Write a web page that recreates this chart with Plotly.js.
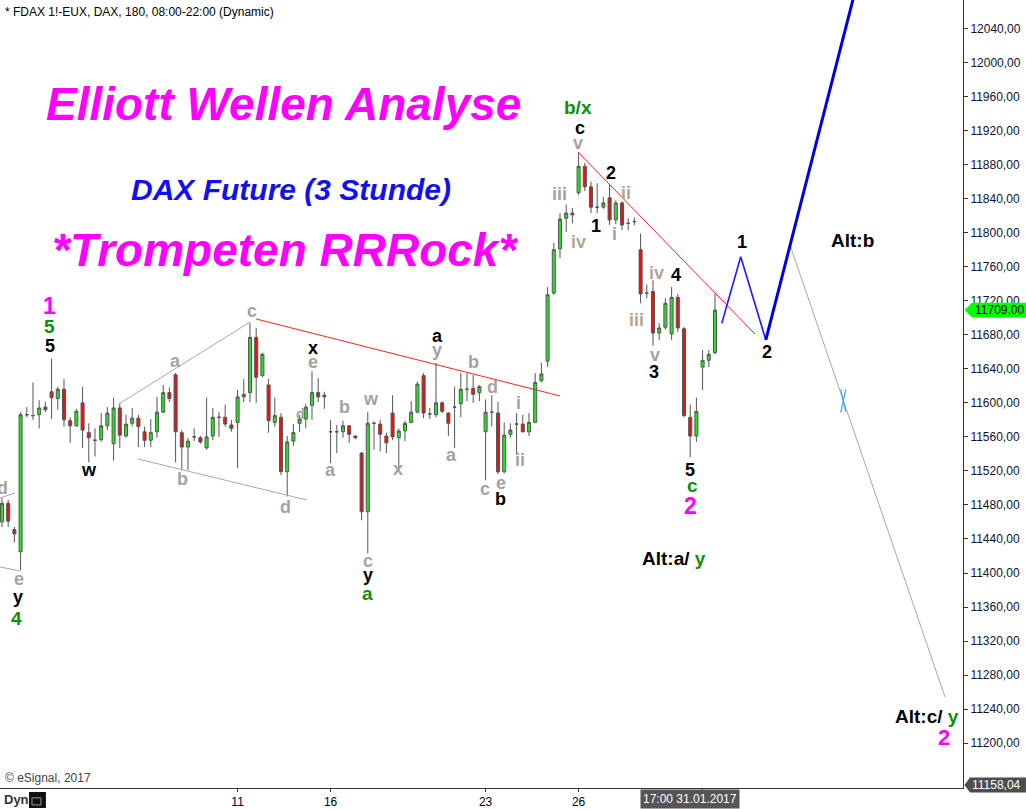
<!DOCTYPE html>
<html><head><meta charset="utf-8">
<script src="https://cdn.plot.ly/plotly-3.0.1.min.js"></script>
<style>html,body{margin:0;padding:0;background:#fff;}#chart{width:1026px;height:809px;}</style>
</head><body><div id="chart"></div>
<script>
// ---- candles (3-hour bars, FDAX) ----
const barOpen = [11460,11482,11451,11425,11586,11585,11586,11595,11613,11605,
 11616,11579,11573,11600,11565,11556,11557,11573,11552,11594,
 11561,11576,11582,11566,11556,11566,11589,11612,11633,11565,
 11548,11560,11559,11547,11561,11583,11583,11574,11577,11607,
 11612,11677,11632,11621,11577,11583,11519,11555,11576,11581,
 11597,11612,11607,11566,11566,11566,11573,11561,11541,11472,
 11576,11575,11561,11588,11559,11567,11577,11589,11632,11587,
 11586,11600,11588,11595,11599,11616,11617,11612,11566,11589,
 11588,11519,11563,11575,11575,11566,11577,11626,11649,11729,
 11781,11817,11823,11847,11878,11854,11830,11830,11841,11815,
 11835,11811,11813,11780,11729,11731,11682,11689,11681,11724,
 11687,11583,11561,11642,11650,11659];
const barHigh = [11488,11486,11454,11589,11595,11624,11603,11601,11652,11619,
 11628,11583,11593,11619,11576,11570,11588,11595,11606,11600,
 11586,11594,11586,11572,11581,11607,11621,11618,11635,11568,
 11559,11570,11561,11606,11594,11589,11598,11580,11615,11628,
 11694,11688,11659,11628,11606,11588,11561,11575,11586,11599,
 11637,11629,11613,11580,11574,11579,11574,11562,11542,11589,
 11578,11580,11565,11609,11570,11579,11602,11625,11635,11594,
 11647,11602,11589,11619,11635,11635,11633,11621,11604,11609,
 11601,11577,11576,11588,11586,11588,11635,11647,11736,11788,
 11823,11833,11829,11895,11882,11860,11858,11842,11856,11838,
 11837,11817,11818,11799,11739,11744,11694,11723,11736,11728,
 11689,11598,11606,11662,11662,11728];
const barLow = [11454,11454,11436,11403,11583,11580,11570,11589,11581,11592,
 11572,11553,11572,11547,11530,11537,11554,11568,11532,11547,
 11559,11572,11548,11548,11548,11559,11588,11601,11530,11521,
 11521,11555,11552,11545,11556,11560,11572,11566,11523,11601,
 11601,11600,11630,11565,11572,11515,11490,11549,11566,11570,
 11580,11601,11593,11529,11541,11559,11553,11557,11462,11423,
 11545,11543,11541,11556,11520,11555,11576,11588,11582,11581,
 11583,11588,11561,11547,11583,11602,11600,11602,11509,11572,
 11516,11517,11559,11539,11565,11561,11576,11624,11642,11727,
 11770,11801,11811,11844,11849,11823,11823,11828,11809,11810,
 11803,11803,11809,11717,11723,11667,11674,11686,11674,11683,
 11583,11536,11554,11615,11642,11657];
const barClose = [11482,11461,11446,11586,11586,11585,11594,11592,11606,11616,
 11580,11573,11590,11568,11559,11556,11573,11588,11594,11562,
 11575,11582,11572,11556,11565,11589,11612,11605,11566,11548,
 11555,11560,11554,11560,11583,11583,11575,11570,11607,11610,
 11677,11630,11657,11579,11585,11519,11554,11565,11581,11595,
 11612,11607,11609,11566,11566,11573,11563,11559,11472,11576,
 11576,11563,11553,11560,11567,11576,11589,11622,11588,11587,
 11600,11590,11576,11595,11616,11616,11610,11619,11589,11589,
 11519,11562,11568,11575,11566,11577,11624,11634,11727,11780,
 11816,11823,11821,11878,11854,11830,11830,11835,11815,11835,
 11809,11811,11813,11728,11729,11682,11688,11717,11724,11688,
 11585,11561,11590,11650,11657,11709];
const barIndex = barOpen.map((_, k) => k);

// ---- axis ticks ----
const xTickVals = [38, 53, 78, 93];
const xTickText = ['11', '16', '23', '26'];
const yTickVals = [11200,11240,11280,11320,11360,11400,11440,11480,11520,11560,11600,
 11640,11680,11720,11760,11800,11840,11880,11920,11960,12000,12040];
const yTickText = ['11200,00','11240,00','11280,00','11320,00','11360,00','11400,00','11440,00',
 '11480,00','11520,00','11560,00','11600,00','11640,00','11680,00','11720,00','11760,00',
 '11800,00','11840,00','11880,00','11920,00','11960,00','12000,00','12040,00'];
const lastPrice = 11709;
const lastPriceText = '11709,00';
const lowPriceText = '11158,04';
const cursorText = '17:00 31.01.2017';
const cursorIndex = 110.97;
const cursorTick = 112.9;

// ---- drawn lines (bar index, price) ----
const redLine1X = [40.97, 90.0],   redLine1Y = [11698.6, 11608.1];
const redLine2X = [92.9, 121.45],  redLine2Y = [11894.8, 11680.9];
const greyUpperX = [18.87, 40.0],  greyUpperY = [11598.7, 11695.0];
const greyLowerX = [21.94, 49.19], greyLowerY = [11534.0, 11485.8];
const greyLeftEX = [-0.32, 2.9],   greyLeftEY = [11407.1, 11402.4];
const greyLeftDX = [-0.32, 2.1],   greyLeftDY = [11488.2, 11494.1];
const blueThinX = [116.1, 119.15, 123.2], blueThinY = [11693.5, 11771.8, 11673.9];
const blueThickX = [123.2, 138.06], blueThickY = [11673.9, 12097.0];
const greyProjX = [127.1, 152.1],  greyProjY = [11785.5, 11254.3];
const blueMarkAX = [136.1, 135.27], blueMarkAY = [11615.9, 11588.4];
const blueMarkBX = [135.27, 136.1], blueMarkBY = [11615.9, 11589.2];

// ---- wave labels ----
const GREY = '#a3a3a3', TAN = '#b5a78f', BLK = '#000000', GRN = '#0b8f0b', MAG = '#ff00ff';
const waveText = ['1','5','5','d','e','y','4','w','a','b','c','d','x','e','d','b','a','w','x','c','y','a',
 'a','y','b','a','d','c','e','b','i','ii','iii','iv','v','c','b/x','2','1','ii','i','iv','4','iii','v','3',
 '5','c','2','1','2','Alt:b','Alt:a/ <span style="color:#0b8f0b">y</span>','Alt:c/ <span style="color:#0b8f0b">y</span>','2'];
const waveX = [7.74,7.74,7.74,0.16,2.74,2.58,2.42,14.03,28.06,29.19,40.32,45.65,50.16,50.16,48.2,55.32,53.06,59.52,63.87,59.03,59.03,59.03,
 70.32,70.16,75.97,72.42,79.19,77.9,80.48,80.48,83.23,83.55,89.84,93.06,92.9,93.23,92.9,98.23,95.81,100.6,98.71,105.6,108.7,102.3,105.3,105.2,
 111.0,111.3,111.0,119.35,123.4,137.2,108.4,149.2,151.9];
const waveY = [11713.8,11689.2,11666.8,11499.9,11393.0,11371.8,11346.0,11521.1,11649.2,11510.5,11708.0,11477.6,11664.5,11648.0,11586.9,11595.1,11521.1,11604.5,11522.3,11414.1,11397.7,11376.5,
 11678.6,11662.1,11648.0,11538.7,11618.6,11498.7,11505.8,11487.0,11599.8,11532.8,11845.5,11789.1,11905.4,11923.1,11946.6,11870.2,11807.9,11846.7,11798.5,11752.6,11750.3,11697.4,11656.2,11636.3,
 11521.1,11502.3,11478.8,11789.1,11659.8,11791.4,11417.6,11231.9,11206.1];
const waveColor = [MAG,GRN,BLK,GREY,GREY,BLK,GRN,BLK,GREY,GREY,GREY,GREY,BLK,GREY,GREY,GREY,GREY,GREY,GREY,GREY,BLK,GRN,
 BLK,GREY,GREY,GREY,GREY,GREY,GREY,BLK,GREY,GREY,GREY,TAN,GREY,BLK,GRN,BLK,BLK,TAN,GREY,TAN,BLK,TAN,GREY,BLK,
 BLK,GRN,MAG,BLK,BLK,BLK,BLK,BLK,MAG];
const waveSize = [23,19,18,18,18,18,19,18,18,18,18,18,18,18,14,18,18,18,18,18,18,19,
 18,18,18,18,18,18,18,18,18,18,18,18,18,18,19,18,18,18,18,18,18,18,18,18,
 18,19,23,18,18,19,19,19,22];

const FONT = 'Liberation Sans, Arial, sans-serif';

const traces = [{
  type: 'candlestick', x: barIndex, open: barOpen, high: barHigh, low: barLow, close: barClose,
  increasing: {line: {color: '#555555', width: 1}, fillcolor: '#1ee61e'},
  decreasing: {line: {color: '#555555', width: 1}, fillcolor: '#f01010'},
  whiskerwidth: 0, hoverinfo: 'skip', showlegend: false
}];
function addLine(x, y, color, width) {
  traces.push({type: 'scatter', mode: 'lines', x: x, y: y, line: {color: color, width: width}, hoverinfo: 'skip', showlegend: false});
}
addLine(greyUpperX, greyUpperY, '#a8a8a8', 1);
addLine(greyLowerX, greyLowerY, '#a8a8a8', 1);
addLine(greyLeftEX, greyLeftEY, '#a8a8a8', 1);
addLine(greyLeftDX, greyLeftDY, '#a8a8a8', 1);
addLine(redLine1X, redLine1Y, '#ff2020', 1);
addLine(redLine2X, redLine2Y, '#ff2020', 1);
addLine(greyProjX, greyProjY, '#a8a8a8', 1);
addLine(blueThinX, blueThinY, '#1a1aff', 1.6);
addLine(blueThickX, blueThickY, '#0000e6', 3);
addLine(blueMarkAX, blueMarkAY, '#3fa3ff', 1.2);
addLine(blueMarkBX, blueMarkBY, '#3fa3ff', 1.2);

const annotations = [];
for (let k = 0; k < waveText.length; k++) {
  annotations.push({xref: 'x', yref: 'y', x: waveX[k], y: waveY[k], text: '<b>' + waveText[k] + '</b>',
    showarrow: false, xanchor: 'center', yanchor: 'middle',
    font: {family: FONT, size: waveSize[k], color: waveColor[k]}});
}
annotations.push(
  {xref: 'paper', yref: 'paper', x: 0.003, y: 0.985, xanchor: 'left', yanchor: 'middle', showarrow: false,
   text: '* FDAX 1!-EUX, DAX, 180, 08:00-22:00 (Dynamic)', font: {family: FONT, size: 12, color: '#000'}},
  {xref: 'paper', yref: 'paper', x: 0.2939, y: 0.868, xanchor: 'center', yanchor: 'middle', showarrow: false,
   text: '<b><i>Elliott Wellen Analyse</i></b>', font: {family: FONT, size: 46, color: '#ff00ff'}},
  {xref: 'paper', yref: 'paper', x: 0.3022, y: 0.7589, xanchor: 'center', yanchor: 'middle', showarrow: false,
   text: '<b><i>DAX Future (3 Stunde)</i></b>', font: {family: FONT, size: 30, color: '#1010f0'}},
  {xref: 'paper', yref: 'paper', x: 0.296, y: 0.6827, xanchor: 'center', yanchor: 'middle', showarrow: false,
   text: '<b><i>*Trompeten RRRock*</i></b>', font: {family: FONT, size: 46, color: '#ff00ff'}},
  {xref: 'paper', yref: 'paper', x: 0.003, y: 0.0127, xanchor: 'left', yanchor: 'middle', showarrow: false,
   text: '© eSignal, 2017', font: {family: FONT, size: 12, color: '#444'}},
  {xref: 'paper', yref: 'paper', x: 0.002, y: -0.0152, xanchor: 'left', yanchor: 'middle', showarrow: false,
   text: '<b>Dyn</b>', font: {family: FONT, size: 13, color: '#333'}},
  {xref: 'paper', yref: 'y', x: 1, xshift: 10, y: lastPrice, xanchor: 'left', yanchor: 'middle', showarrow: false,
   text: lastPriceText, font: {family: FONT, size: 12, color: '#000'}},
  {xref: 'paper', yref: 'paper', x: 1, xshift: 7, y: 0.0038, xanchor: 'left', yanchor: 'middle', showarrow: false,
   text: lowPriceText, font: {family: FONT, size: 12, color: '#fff'}},
  {xref: 'x', yref: 'paper', x: cursorIndex, y: -0.0138, xanchor: 'center', yanchor: 'middle', showarrow: false,
   text: cursorText, bgcolor: '#555555', borderpad: 2, font: {family: FONT, size: 12, color: '#fff'}}
);

const lpHalf = 8.8;
const shapes = [
  {type: 'path', xref: 'paper', yref: 'y', fillcolor: '#00ff00', line: {width: 0},
   path: 'M 1.0015,' + lastPrice + ' L 1.0093,' + (lastPrice + lpHalf) + ' L 1.0654,' + (lastPrice + lpHalf) +
         ' L 1.0654,' + (lastPrice - lpHalf) + ' L 1.0093,' + (lastPrice - lpHalf) + ' Z'},
  {type: 'path', xref: 'paper', yref: 'paper', fillcolor: '#4d4d4d', line: {width: 0},
   path: 'M 1.0015,0.0038 L 1.0072,0.0133 L 1.0654,0.0133 L 1.0654,-0.0057 L 1.0072,-0.0057 Z'},
  {type: 'rect', xref: 'paper', yref: 'paper', x0: 0.0301, x1: 0.0477, y0: -0.0254, y1: -0.0051,
   fillcolor: '#111', line: {width: 0}},
  {type: 'rect', xref: 'paper', yref: 'paper', x0: 0.0332, x1: 0.0425, y0: -0.0215, y1: -0.0125,
   fillcolor: 'rgba(0,0,0,0)', line: {color: '#999', width: 1}},
  {type: 'line', xref: 'x', yref: 'paper', x0: cursorTick, x1: cursorTick, y0: 0, y1: -0.005,
   line: {color: '#333', width: 1}}
];

const layout = {
  width: 1026, height: 809,
  margin: {l: 0, r: 63, t: 0, b: 21, pad: 0},
  paper_bgcolor: '#ffffff', plot_bgcolor: '#ffffff',
  showlegend: false,
  font: {family: FONT, size: 12, color: '#000'},
  xaxis: {range: [-0.32, 155.0], rangeslider: {visible: false}, showgrid: false, zeroline: false,
    showline: true, linecolor: '#333', linewidth: 1, ticks: 'outside', ticklen: 3, tickcolor: '#333',
    tickvals: xTickVals, ticktext: xTickText, tickfont: {family: FONT, size: 12, color: '#000'},
    automargin: false, fixedrange: true},
  yaxis: {range: [11147.3, 12073.5], side: 'right', showgrid: false, zeroline: false,
    showline: true, linecolor: '#333', linewidth: 1, ticks: 'outside', ticklen: 4, tickcolor: '#333',
    tickvals: yTickVals, ticktext: yTickText, tickfont: {family: FONT, size: 12, color: '#10102a'},
    automargin: false, fixedrange: true},
  annotations: annotations,
  shapes: shapes
};

Plotly.newPlot('chart', traces, layout, {staticPlot: true, displayModeBar: false});
</script>
</body></html>
